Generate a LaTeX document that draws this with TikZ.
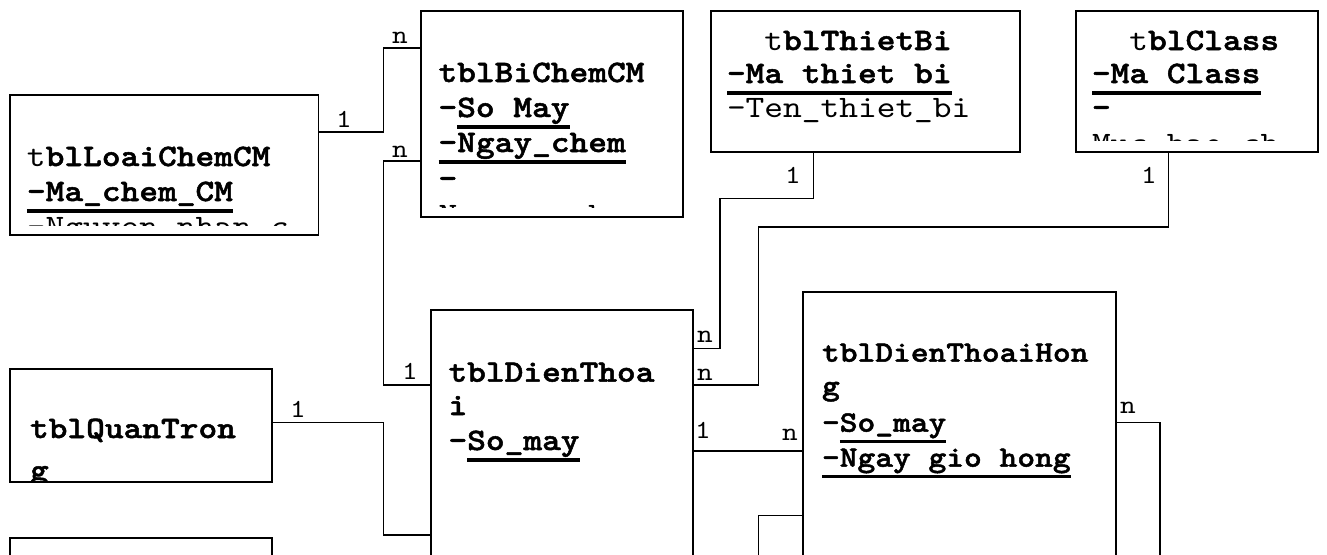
\documentclass[tikz,border=0pt]{standalone}
\usepackage{fontspec}
\newfontfamily\cour{lmmono10-regular.otf}[BoldFont=lmmonolt10-bold.otf, FakeStretch=1.143, BoldFeatures={FakeBold=1.6}]
\newsavebox\ulbox
\newcommand\ulx[1]{\leavevmode\sbox\ulbox{#1}\rlap{\rule[-11.7pt]{\wd\ulbox}{3.7pt}}\usebox\ulbox}
\tikzset{
  tbl/.style={draw=black, line width=1.8pt, rectangle, inner sep=0pt, outer sep=0pt, anchor=north west},
  txt/.style={anchor=base west, inner sep=0pt, outer sep=0pt, font=\cour\fontsize{31.2}{35}\selectfont},
  txtsm/.style={txt, font=\cour\fontsize{29.6}{35}\selectfont},
  lab/.style={anchor=base, inner sep=0pt, outer sep=0pt, font=\cour\fontsize{26}{30}\selectfont},
  conn/.style={draw=black, line width=1.6pt},
}
\begin{document}
\begin{tikzpicture}[x=1pt,y=-1pt]
\useasboundingbox (0,0) rectangle (1327,554);
\clip (0,0) rectangle (1327,554);
\fill[white] (0,0) rectangle (1327,554);

% boxes
\node[tbl, minimum width=308.5pt, minimum height=140pt] (loai) at (10,95) {};
\node[tbl, minimum width=262pt, minimum height=205.7pt] (bichem) at (420.7,11) {};
\node[tbl, minimum width=309pt, minimum height=141pt] (thiet) at (711,11) {};
\node[tbl, minimum width=242.3pt, minimum height=141pt] (class) at (1075.7,11) {};
\node[tbl, minimum width=261.7pt, minimum height=112.7pt] (quan) at (10,369) {};
\node[tbl, minimum width=262pt, minimum height=100pt] (bl) at (10,537.7) {};
\node[tbl, minimum width=262pt, minimum height=300pt] (dien) at (430.7,310) {};
\node[tbl, minimum width=312.7pt, minimum height=320pt] (hong) at (803,291.7) {};

% texts
\begin{scope}
\clip (10,95) rectangle (318.5,225);
\node[txt] (loai1) at (27,166) {t\bfseries blLoaiChemCM};
\node[txt] (loai2) at (27,201) {\bfseries\ulx{-Ma\_chem\_CM}};
\node[txt] (loai3) at (27,236) {-Nguyen\_nhan\_c};
\end{scope}

\begin{scope}
\clip (420.7,11) rectangle (682.7,207);
\node[txt] (bi1) at (438.5,82) {\bfseries tblBiChemCM};
\node[txt] (bi2) at (438.5,117) {\bfseries -\ulx{So May}};
\node[txt] (bi3) at (438.5,152) {\bfseries\ulx{-Ngay\_chem}};
\node[txt] (bi4) at (438.5,188) {\bfseries -};
\node[txt] (bi5) at (438.5,224) {Nguyen\_nhan};
\end{scope}

\node[txt] (th1) at (764.4,50) {t\bfseries blThietBi};
\node[txt] (th2) at (727,83) {\bfseries\ulx{-Ma thiet bi}};
\node[txt] (th3) at (727,117) {-Ten\_thiet\_bi};

\begin{scope}
\clip (1075.7,11) rectangle (1318,140);
\node[txt] (cl1) at (1129.4,50) {t\bfseries blClass};
\node[txt] (cl2) at (1092,83) {\bfseries\ulx{-Ma Class}};
\node[txt] (cl3) at (1092,117) {\bfseries -};
\node[txt] (cl4) at (1092,153) {Muc\_bao\_ch};
\end{scope}

\begin{scope}
\clip (10,369) rectangle (271.7,480);
\node[txt] (qu1) at (30,438) {\bfseries tblQuanTron};
\node[txt] (qu2) at (30,480) {\bfseries g};
\end{scope}

\node[txt] (di1) at (448.5,381.7) {\bfseries tblDienThoa};
\node[txt] (di2) at (448.5,415) {\bfseries i};
\node[txt] (di3) at (448.5,450) {\bfseries -\ulx{So\_may}};

\node[txtsm] (ho1) at (822,361.7) {\bfseries tblDienThoaiHon};
\node[txtsm] (ho2) at (822,395) {\bfseries g};
\node[txtsm] (ho3) at (822,431.7) {\bfseries -\ulx{So\_may}};
\node[txtsm] (ho4) at (822,466.7) {\bfseries\ulx{-Ngay gio hong}};

% connectors
\coordinate (gend) at (758.3,620);
\coordinate (hend) at (1160,620);
\draw[conn] (loai.east |- 0,131.7) -| (383.3,47.7) -- (bichem.west |- 0,47.7);
\draw[conn] (bichem.west |- 0,161) -| (383.3,385) -- (dien.west |- 0,385);
\draw[conn] (thiet.south -| 813.3,0) |- (720,198.3) |- (dien.east |- 0,348.3);
\draw[conn] (class.south -| 1168.3,0) |- (758.3,226.7) |- (dien.east |- 0,385);
\draw[conn] (dien.east |- 0,450.7) -- (hong.west |- 0,450.7);
\draw[conn] (quan.east |- 0,422.3) -| (383.3,535) -- (dien.west |- 0,535);
\draw[conn] (hong.west |- 0,515.3) -| (gend);
\draw[conn] (hong.east |- 0,422.3) -| (hend);

% labels
\node[lab] (l1) at (344,127) {1};
\node[lab] (l2) at (400,43) {n};
\node[lab] (l3) at (400,157) {n};
\node[lab] (l4) at (410,379) {1};
\node[lab] (l5) at (298,417) {1};
\node[lab] (l6) at (793,183) {1};
\node[lab] (l7) at (1149,183) {1};
\node[lab] (l8) at (705,342) {n};
\node[lab] (l9) at (705,380) {n};
\node[lab] (l10) at (703,438) {1};
\node[lab] (l11) at (790,440) {n};
\node[lab] (l12) at (1128,413) {n};
\end{tikzpicture}
\end{document}
